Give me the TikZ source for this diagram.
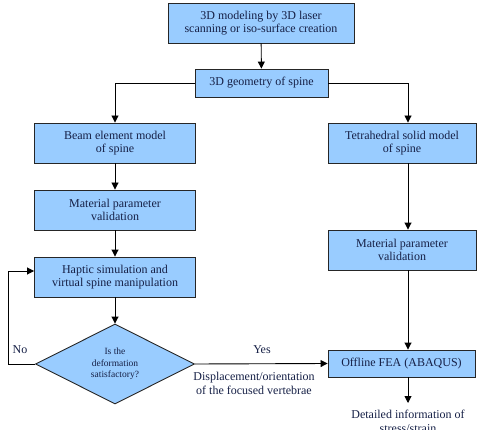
\documentclass[tikz,border=0pt]{standalone}
\usepackage{fontspec}
\setmainfont{Liberation Serif}
\usetikzlibrary{shapes.geometric,arrows.meta}
\definecolor{boxblue}{RGB}{153,204,255}
\definecolor{inkblue}{RGB}{22,32,70}
\begin{document}
\begin{tikzpicture}[x=1pt,y=-1pt,
	stepbox/.style={draw=black!85, fill=boxblue, line width=0.9pt, text=inkblue, align=center, inner sep=0pt, font=\fontsize{12}{13.5}\selectfont},
	decide/.style={diamond, aspect=2, draw=black!85, fill=boxblue, line width=0.9pt, text=inkblue, align=center, inner sep=0pt, font=\fontsize{9.5}{11.7}\selectfont},
	flow/.style={line width=0.9pt, -{Triangle[length=7pt,width=7pt]}},
	note/.style={text=inkblue, align=center, inner sep=0pt, font=\fontsize{12}{13.5}\selectfont}]
			\useasboundingbox (0,0) rectangle (481,430);

			%Shape: Rectangle [top]
			\node[stepbox, minimum width=186, minimum height=40] (model) at (261,23) {3D modeling by 3D laser\\scanning or iso-surface creation};
			%Shape: Rectangle [geometry]
			\node[stepbox, minimum width=133, minimum height=28] (geom) at (261.5,83) {3D geometry of spine};
			%Shape: Rectangle [left column]
			\node[stepbox, minimum width=161, minimum height=40] (beam) at (115,143) {Beam element model\\of spine};
			\node[stepbox, minimum width=161, minimum height=40] (matl) at (115,210) {Material parameter\\validation};
			\node[stepbox, minimum width=161, minimum height=40] (haptic) at (115,277) {Haptic simulation and\\virtual spine manipulation};
			%Shape: Diamond
			\node[decide, minimum width=159, minimum height=80] (check) at (115,364) {Is the\\deformation\\satisfactory?};
			%Shape: Rectangle [right column]
			\node[stepbox, minimum width=148, minimum height=40] (tetra) at (402,143) {Tetrahedral solid model\\of spine};
			\node[stepbox, minimum width=148, minimum height=40] (matr) at (402,250) {Material parameter\\validation};
			\node[stepbox, minimum width=147, minimum height=27] (fea) at (401.5,363.5) {Offline FEA (ABAQUS)};

			\coordinate (loop) at (8,364);
			\coordinate (out) at (408,403);

			%Connectors
			\draw[flow] (model) -- (geom);
			\draw[flow] (geom.west) -| (beam.north);
			\draw[flow] (geom.east) -| ([xshift=6]tetra.north);
			\draw[flow] (beam) -- (matl);
			\draw[flow] (matl) -- (haptic);
			\draw[flow] (haptic) -- (check);
			\draw[flow] (check.west) -- (loop) |- ([yshift=6]haptic.west);
			\draw[flow] (check.east) -- (fea.west);
			\draw[flow] ([xshift=6]tetra.south) -- ([xshift=6]matr.north);
			\draw[flow] ([xshift=6]matr.south) -- ([xshift=6.5]fea.north);
			\draw[flow] ([xshift=6.5]fea.south) -- (out);

			% Text Node
			\node[note] (no) at (20,350) {No};
			% Text Node
			\node[note] (yes) at (262,350) {Yes};
			% Text Node
			\node[note] (disp) at (254,383.5) {Displacement/orientation\\of the focused vertebrae};
			% Text Node
			\node[note, anchor=north] (detail) at (408,410) {Detailed information of\\stress/strain};

		\end{tikzpicture}
\end{document}
